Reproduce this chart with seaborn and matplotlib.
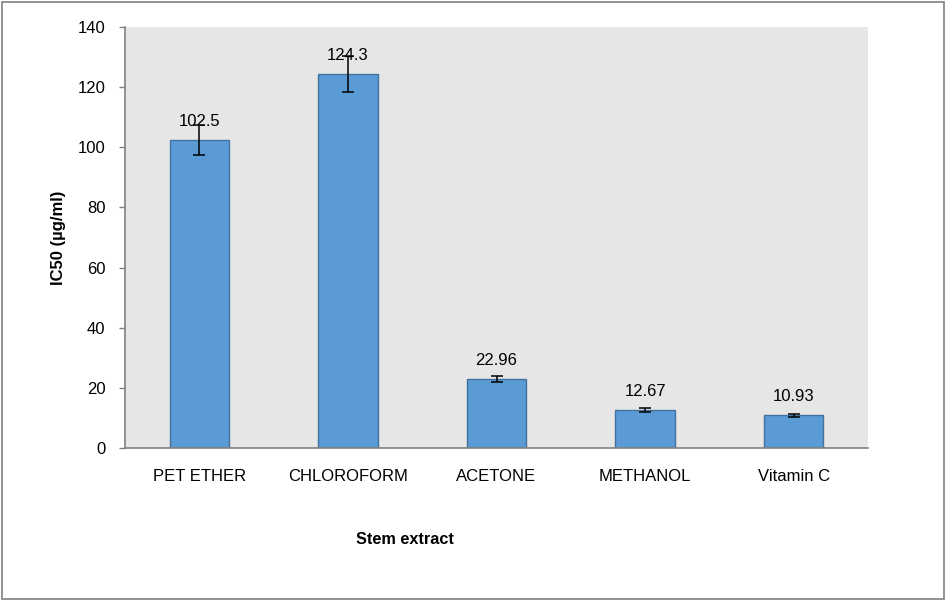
import matplotlib
matplotlib.use("Agg")
import matplotlib.pyplot as plt
import seaborn as sns
import pandas as pd
from matplotlib.patches import Rectangle

categories = ["PET ETHER", "CHLOROFORM", "ACETONE", "METHANOL", "Vitamin C"]
ic50 = [102.5, 124.3, 22.96, 12.67, 10.93]
errors = [5.0, 6.0, 1.0, 0.7, 0.5]
labels = ["102.5", "124.3", "22.96", "12.67", "10.93"]
yticks = [0, 20, 40, 60, 80, 100, 120, 140]

sns.set_style("white")
plt.rcParams['font.family'] = ['Liberation Sans', 'DejaVu Sans']
plt.rcParams['text.color'] = 'black'
plt.rcParams['axes.labelcolor'] = 'black'
plt.rcParams['xtick.color'] = 'black'
plt.rcParams['ytick.color'] = 'black'

df = pd.DataFrame({"cat": categories, "val": ic50})

fig = plt.figure(figsize=(9.47, 6.02), dpi=100)
W, H = 947, 602
ax = fig.add_axes([125 / W, 1 - 448 / H, (868 - 125) / W, (448 - 27) / H])
ax.set_facecolor("#E6E6E6")

sns.barplot(data=df, x="cat", y="val", ax=ax, color="#5B9BD5",
            edgecolor="#41719C", linewidth=1.0, width=0.4, saturation=1,
            errorbar=None)
ax.errorbar(range(len(categories)), ic50, yerr=errors, fmt="none",
            ecolor="black", elinewidth=1.1, capsize=4, capthick=1.1, zorder=5)

for i, (v, lab) in enumerate(zip(ic50, labels)):
    ax.annotate(lab, (i, v), xytext=(0, 8), textcoords="offset points",
                ha="center", va="bottom", fontsize=12, color="black", zorder=6)

ax.set_ylim(0, 140)
ax.set_xlim(-0.5, len(categories) - 0.5)
ax.set_yticks(yticks)
ax.tick_params(axis="y", length=4, width=1, color="#808080", labelcolor="black",
               pad=10, labelsize=12, left=True)
ax.tick_params(axis="x", length=0, pad=15, labelsize=12, labelcolor="black")

for s in ["top", "right"]:
    ax.spines[s].set_visible(False)
for s in ["left", "bottom"]:
    ax.spines[s].set_color("#808080")
    ax.spines[s].set_linewidth(1.2)

ax.set_ylabel("IC50 (µg/ml)", fontsize=12, fontweight="bold", color="black")
ax.yaxis.set_label_coords((58 - 125) / 743, 0.5)
ax.yaxis.label.set_verticalalignment("center")
ax.set_xlabel("Stem extract", fontsize=11.7, fontweight="bold", color="black")
ax.xaxis.set_label_coords((405 - 125) / 743, (448 - 540) / 421)
ax.xaxis.label.set_verticalalignment("center")

fig.patches.append(Rectangle((2 / W, 1 - 599 / H), (944 - 2) / W, (599 - 2) / H,
                             transform=fig.transFigure, fill=False,
                             edgecolor="#808080", linewidth=1.2))

fig.savefig("out.png", dpi=100)
